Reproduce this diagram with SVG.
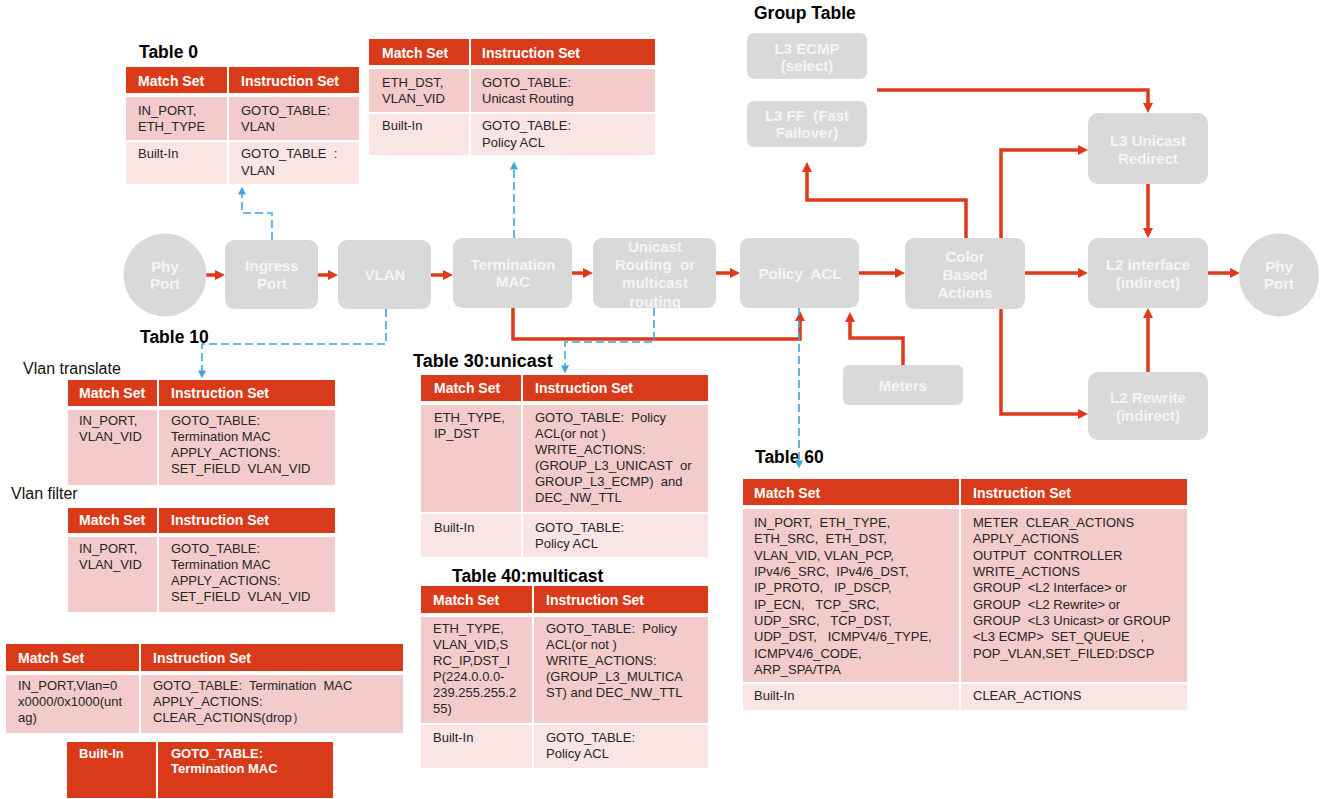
<svg xmlns="http://www.w3.org/2000/svg" width="1320" height="799" viewBox="0 0 1320 799" xml:space="preserve">
<defs>
<style>
text{white-space:pre}
.node{fill:#d9d9d9}
.nt{font-family:"Liberation Sans",Arial,sans-serif;font-size:15px;font-weight:bold;fill:#f5f5f5;text-anchor:middle}
.title{font-family:"Liberation Sans",Arial,sans-serif;font-size:17.5px;font-weight:bold;fill:#000}
.lbl{font-family:"Liberation Sans",Arial,sans-serif;font-size:16px;fill:#111}
.hd{fill:#d93a1a}
.r1{fill:#f2cbca}
.r2{fill:#f9e5e4}
.sep{stroke:#fff;stroke-width:2}
.ht{font-family:"Liberation Sans",Arial,sans-serif;font-size:14px;font-weight:bold;fill:#fff}
.hb{font-family:"Liberation Sans",Arial,sans-serif;font-size:13px;font-weight:bold;fill:#fff}
.bt{font-family:"Liberation Sans",Arial,sans-serif;font-size:13px;fill:#262626}
.red{fill:none;stroke:#dc3a1a;stroke-width:3.5;marker-end:url(#ra)}
.blue{fill:none;stroke:#3ea6d6;stroke-width:1.6;stroke-dasharray:8 4;marker-end:url(#ba)}
</style>
<marker id="ra" viewBox="0 0 10 10" refX="2" refY="5" markerWidth="10" markerHeight="10" markerUnits="userSpaceOnUse" orient="auto"><path d="M0,0 L10,5 L0,10 z" fill="#dc3a1a"/></marker>
<marker id="ba" viewBox="0 0 10 10" refX="2" refY="5" markerWidth="8" markerHeight="8" markerUnits="userSpaceOnUse" orient="auto"><path d="M0,0 L10,5 L0,10 z" fill="#3ea6d6"/></marker>
</defs>
<rect width="1320" height="799" fill="#fff"/>
<g id="labels">
<text class="title" x="139" y="58">Table 0</text>
<text class="title" x="754" y="19">Group Table</text>
<text class="title" x="140" y="343">Table 10</text>
<text class="title" x="413" y="367" style="font-size:18px">Table 30:unicast</text>
<text class="title" x="452" y="582">Table 40:multicast</text>
<text class="title" x="755" y="463">Table 60</text>
<text class="lbl" x="23" y="374">Vlan translate</text>
<text class="lbl" x="11" y="499">Vlan filter</text>
</g>
<g id="connectors">
<path class="red" d="M206,275 H217"/>
<path class="red" d="M318,275 H330"/>
<path class="red" d="M431,275 H445"/>
<path class="red" d="M572,273 H585"/>
<path class="red" d="M716,273 H732"/>
<path class="red" d="M859,273 H897"/>
<path class="red" d="M1025,273 H1080"/>
<path class="red" d="M1208,273 H1232"/>
<path class="red" d="M1148,184 V230"/>
<path class="red" d="M1148,372 V316"/>
<path class="red" d="M877,90 H1148 V105"/>
<path class="red" d="M1001,238 V150 H1080"/>
<path class="red" d="M966,238 V200 H807 V170"/>
<path class="red" d="M1001,309 V414 H1080"/>
<path class="red" d="M903,365 V338 H850 V320"/>
<path class="red" d="M513,308 V339 H800 V319"/>
<path class="blue" d="M272,240 V213 H242 V193"/>
<path class="blue" d="M514,238 V168"/>
<path class="blue" d="M386,309 V344 H202 V372"/>
<path class="blue" d="M654,308 V342 H565 V367"/>
<path class="blue" d="M799,308 V462"/>
</g>
<g id="phy-in"><circle class="node" cx="165" cy="275" r="41.5"/><text class="nt" x="165" y="272">Phy</text><text class="nt" x="165" y="289">Port</text></g>
<g id="ingress"><rect class="node" x="225" y="240" width="93" height="69" rx="9"/><text class="nt" x="272" y="271">Ingress</text><text class="nt" x="272" y="289">Port</text></g>
<g id="vlan"><rect class="node" x="338" y="240" width="93" height="69" rx="9"/><text class="nt" x="385" y="280">VLAN</text></g>
<g id="tmac"><rect class="node" x="453" y="238" width="119" height="70" rx="9"/><text class="nt" x="513" y="270">Termination</text><text class="nt" x="513" y="287">MAC</text></g>
<g id="unicast"><rect class="node" x="593" y="238" width="123" height="70" rx="9"/><text class="nt" x="655" y="252">Unicast</text><text class="nt" x="655" y="270">Routing  or</text><text class="nt" x="655" y="288">multicast</text><text class="nt" x="655" y="307">routing</text></g>
<g id="policy"><rect class="node" x="740" y="238" width="119" height="70" rx="9"/><text class="nt" x="800" y="279">Policy  ACL</text></g>
<g id="color"><rect class="node" x="905" y="238" width="120" height="71" rx="9"/><text class="nt" x="965" y="262">Color</text><text class="nt" x="965" y="280">Based</text><text class="nt" x="965" y="298">Actions</text></g>
<g id="meters"><rect class="node" x="843" y="365" width="120" height="40" rx="6"/><text class="nt" x="903" y="391">Meters</text></g>
<g id="l3ecmp"><rect class="node" x="747" y="33" width="120" height="46" rx="7"/><text class="nt" x="807" y="54">L3 ECMP</text><text class="nt" x="807" y="71">(select)</text></g>
<g id="l3ff"><rect class="node" x="747" y="101" width="120" height="46" rx="7"/><text class="nt" x="807" y="121">L3 FF  (Fast</text><text class="nt" x="807" y="138">Failover)</text></g>
<g id="l3uni"><rect class="node" x="1088" y="113" width="120" height="71" rx="10"/><text class="nt" x="1148" y="146">L3 Unicast</text><text class="nt" x="1148" y="164">Redirect</text></g>
<g id="l2if"><rect class="node" x="1088" y="238" width="120" height="70" rx="10"/><text class="nt" x="1148" y="270">L2 interface</text><text class="nt" x="1148" y="288">(indirect)</text></g>
<g id="l2rw"><rect class="node" x="1088" y="372" width="120" height="68" rx="10"/><text class="nt" x="1148" y="403">L2 Rewrite</text><text class="nt" x="1148" y="421">(indirect)</text></g>
<g id="phy-out"><ellipse class="node" cx="1279" cy="275" rx="40" ry="41.5"/><text class="nt" x="1279" y="272">Phy</text><text class="nt" x="1279" y="289">Port</text></g>
<g id="table0">
<rect class="hd" x="126" y="67" width="233" height="26"/>
<rect class="r1" x="126" y="97" width="233" height="43"/>
<rect class="r2" x="126" y="142" width="233" height="42"/>
<line class="sep" x1="228" y1="67" x2="228" y2="184"/>
<text class="ht" x="138" y="86">Match Set</text><text class="ht" x="241" y="86">Instruction Set</text>
<text class="bt" x="138" y="115">IN_PORT,</text><text class="bt" x="138" y="131">ETH_TYPE</text>
<text class="bt" x="241" y="115">GOTO_TABLE:</text><text class="bt" x="241" y="131">VLAN</text>
<text class="bt" x="138" y="158">Built-In</text>
<text class="bt" x="241" y="158">GOTO_TABLE  :</text><text class="bt" x="241" y="175">VLAN</text>
</g>
<g id="table-tmac">
<rect class="hd" x="369" y="39" width="286" height="26"/>
<rect class="r1" x="369" y="69" width="286" height="43"/>
<rect class="r2" x="369" y="114" width="286" height="41"/>
<line class="sep" x1="470" y1="39" x2="470" y2="155"/>
<text class="ht" x="382" y="58">Match Set</text><text class="ht" x="482" y="58">Instruction Set</text>
<text class="bt" x="382" y="87">ETH_DST,</text><text class="bt" x="382" y="103">VLAN_VID</text>
<text class="bt" x="482" y="87">GOTO_TABLE:</text><text class="bt" x="482" y="103">Unicast Routing</text>
<text class="bt" x="382" y="130">Built-In</text>
<text class="bt" x="482" y="130">GOTO_TABLE:</text><text class="bt" x="482" y="147">Policy ACL</text>
</g>
<g id="table10-translate">
<rect class="hd" x="68" y="380" width="267" height="26"/>
<rect class="r1" x="68" y="410" width="267" height="75"/>
<line class="sep" x1="158" y1="380" x2="158" y2="485"/>
<text class="ht" x="79" y="398">Match Set</text><text class="ht" x="171" y="398">Instruction Set</text>
<text class="bt" x="79" y="425">IN_PORT,</text><text class="bt" x="79" y="441">VLAN_VID</text>
<text class="bt" x="171" y="425">GOTO_TABLE:</text><text class="bt" x="171" y="441">Termination MAC</text>
<text class="bt" x="171" y="457">APPLY_ACTIONS:</text><text class="bt" x="171" y="473">SET_FIELD  VLAN_VID</text>
</g>
<g id="table10-filter">
<rect class="hd" x="68" y="508" width="267" height="25"/>
<rect class="r1" x="68" y="537" width="267" height="75"/>
<line class="sep" x1="158" y1="508" x2="158" y2="612"/>
<text class="ht" x="79" y="525">Match Set</text><text class="ht" x="171" y="525">Instruction Set</text>
<text class="bt" x="79" y="553">IN_PORT,</text><text class="bt" x="79" y="569">VLAN_VID</text>
<text class="bt" x="171" y="553">GOTO_TABLE:</text><text class="bt" x="171" y="569">Termination MAC</text>
<text class="bt" x="171" y="585">APPLY_ACTIONS:</text><text class="bt" x="171" y="601">SET_FIELD  VLAN_VID</text>
</g>
<g id="table10-untag">
<rect class="hd" x="6" y="644" width="397" height="27"/>
<rect class="r1" x="6" y="675" width="397" height="58"/>
<line class="sep" x1="140" y1="644" x2="140" y2="733"/>
<text class="ht" x="18" y="663">Match Set</text><text class="ht" x="153" y="663">Instruction Set</text>
<text class="bt" x="18" y="690">IN_PORT,Vlan=0</text><text class="bt" x="18" y="706">x0000/0x1000(unt</text><text class="bt" x="18" y="722">ag)</text>
<text class="bt" x="153" y="690">GOTO_TABLE:  Termination  MAC</text><text class="bt" x="153" y="706">APPLY_ACTIONS:</text><text class="bt" x="153" y="722">CLEAR_ACTIONS(drop）</text>
</g>
<g id="table10-builtin">
<rect class="hd" x="67" y="742" width="266" height="56"/>
<line class="sep" x1="157" y1="742" x2="157" y2="798"/>
<text class="hb" x="79" y="758">Built-In</text>
<text class="hb" x="171" y="758">GOTO_TABLE:</text><text class="hb" x="171" y="773">Termination MAC</text>
</g>
<g id="table30">
<rect class="hd" x="421" y="375" width="287" height="26"/>
<rect class="r1" x="421" y="405" width="287" height="107"/>
<rect class="r2" x="421" y="514" width="287" height="43"/>
<line class="sep" x1="522" y1="375" x2="522" y2="557"/>
<text class="ht" x="434" y="393">Match Set</text><text class="ht" x="535" y="393">Instruction Set</text>
<text class="bt" x="434" y="422">ETH_TYPE,</text><text class="bt" x="434" y="438">IP_DST</text>
<text class="bt" x="535" y="422">GOTO_TABLE:  Policy</text>
<text class="bt" x="535" y="438">ACL(or not )</text>
<text class="bt" x="535" y="454">WRITE_ACTIONS:</text>
<text class="bt" x="535" y="470">(GROUP_L3_UNICAST  or</text>
<text class="bt" x="535" y="486">GROUP_L3_ECMP)  and</text>
<text class="bt" x="535" y="502">DEC_NW_TTL</text>
<text class="bt" x="434" y="532">Built-In</text>
<text class="bt" x="535" y="532">GOTO_TABLE:</text><text class="bt" x="535" y="548">Policy ACL</text>
</g>
<g id="table40">
<rect class="hd" x="421" y="586" width="287" height="27"/>
<rect class="r1" x="421" y="617" width="287" height="106"/>
<rect class="r2" x="421" y="725" width="287" height="43"/>
<line class="sep" x1="533" y1="586" x2="533" y2="768"/>
<text class="ht" x="433" y="605">Match Set</text><text class="ht" x="546" y="605">Instruction Set</text>
<text class="bt" x="433" y="633">ETH_TYPE,</text>
<text class="bt" x="433" y="649">VLAN_VID,S</text>
<text class="bt" x="433" y="665">RC_IP,DST_I</text>
<text class="bt" x="433" y="681">P(224.0.0.0-</text>
<text class="bt" x="433" y="697">239.255.255.2</text>
<text class="bt" x="433" y="713">55)</text>
<text class="bt" x="546" y="633">GOTO_TABLE:  Policy</text>
<text class="bt" x="546" y="649">ACL(or not )</text>
<text class="bt" x="546" y="665">WRITE_ACTIONS:</text>
<text class="bt" x="546" y="681">(GROUP_L3_MULTICA</text>
<text class="bt" x="546" y="697">ST) and DEC_NW_TTL</text>
<text class="bt" x="433" y="742">Built-In</text>
<text class="bt" x="546" y="742">GOTO_TABLE:</text><text class="bt" x="546" y="758">Policy ACL</text>
</g>
<g id="table60">
<rect class="hd" x="743" y="479" width="444" height="26"/>
<rect class="r1" x="743" y="509" width="444" height="173"/>
<rect class="r2" x="743" y="684" width="444" height="26"/>
<line class="sep" x1="960" y1="479" x2="960" y2="710"/>
<text class="ht" x="754" y="498">Match Set</text><text class="ht" x="973" y="498">Instruction Set</text>
<text class="bt" x="754" y="527">IN_PORT,  ETH_TYPE,</text>
<text class="bt" x="754" y="543">ETH_SRC,  ETH_DST,</text>
<text class="bt" x="754" y="560">VLAN_VID, VLAN_PCP,</text>
<text class="bt" x="754" y="576">IPv4/6_SRC,  IPv4/6_DST,</text>
<text class="bt" x="754" y="592">IP_PROTO,   IP_DSCP,</text>
<text class="bt" x="754" y="609">IP_ECN,   TCP_SRC,</text>
<text class="bt" x="754" y="625">UDP_SRC,   TCP_DST,</text>
<text class="bt" x="754" y="641">UDP_DST,   ICMPV4/6_TYPE,</text>
<text class="bt" x="754" y="658">ICMPV4/6_CODE,</text>
<text class="bt" x="754" y="674">ARP_SPA/TPA</text>
<text class="bt" x="973" y="527">METER  CLEAR_ACTIONS</text>
<text class="bt" x="973" y="543">APPLY_ACTIONS</text>
<text class="bt" x="973" y="560">OUTPUT  CONTROLLER</text>
<text class="bt" x="973" y="576">WRITE_ACTIONS</text>
<text class="bt" x="973" y="592">GROUP  &lt;L2 Interface&gt; or</text>
<text class="bt" x="973" y="609">GROUP  &lt;L2 Rewrite&gt; or</text>
<text class="bt" x="973" y="625">GROUP  &lt;L3 Unicast&gt; or GROUP</text>
<text class="bt" x="973" y="641">&lt;L3 ECMP&gt;  SET_QUEUE   ,</text>
<text class="bt" x="973" y="658">POP_VLAN,SET_FILED:DSCP</text>
<text class="bt" x="754" y="700">Built-In</text>
<text class="bt" x="973" y="700">CLEAR_ACTIONS</text>
</g>
</svg>
